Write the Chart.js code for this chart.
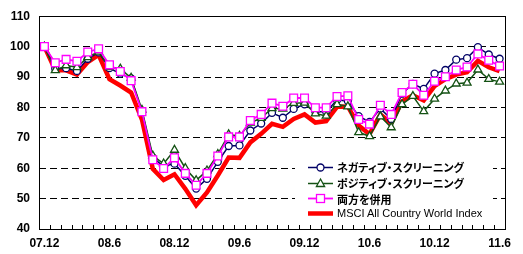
<!DOCTYPE html>
<html>
<head>
<meta charset="utf-8">
<script src="https://cdn.jsdelivr.net/npm/chart.js@4"></script>
<style>
  html, body { margin: 0; padding: 0; background: #fff; }
  #wrap { position: relative; width: 523px; height: 254px; }
  #legend {
    position: absolute; left: 295px; top: 160px; width: 198px; height: 61px;
    background: #fff; color: #000;
    font-family: "Liberation Sans", Arial, "Noto Sans CJK JP", sans-serif; font-size: 11px;
  }
  .row { position: absolute; left: 13px; height: 15px; display: flex; align-items: center; white-space: nowrap; }
  .row svg { margin-right: 4px; flex: none; }
  .jp { font-family: "Noto Sans CJK JP", sans-serif; font-weight: bold; font-feature-settings: "palt"; }
</style>
</head>
<body>
<div id="wrap">
  <canvas id="myChart" width="523" height="254"></canvas>
  <div id="legend"></div>
</div>
<script>
const months = [
  "07.12", "08.1", "08.2", "08.3", "08.4", "08.5", "08.6", "08.7", "08.8", "08.9", "08.10", "08.11",
  "08.12", "09.1", "09.2", "09.3", "09.4", "09.5", "09.6", "09.7", "09.8", "09.9", "09.10", "09.11",
  "09.12", "10.1", "10.2", "10.3", "10.4", "10.5", "10.6", "10.7", "10.8", "10.9", "10.10", "10.11",
  "10.12", "11.1", "11.2", "11.3", "11.4", "11.5", "11.6"
];

const negativeScreening = [
  100, 92.7, 92.9, 92.0, 96.0, 98.1, 92.9, 91.1, 89.5, 78.7, 63.5, 60.6,
  61.5, 57.5, 53.3, 56.5, 62.1, 67.3, 67.5, 72.4, 74.7, 78.2, 76.6, 79.5,
  81.0, 78.6, 78.6, 82.4, 82.1, 77.1, 75.2, 79.6, 76.2, 84.5, 87.7, 86.1,
  91.1, 92.3, 95.7, 96.2, 99.8, 97.4, 96.0
];

const positiveScreening = [
  100, 92.2, 93.8, 93.2, 96.5, 98.3, 93.2, 92.7, 89.7, 79.2, 64.1, 61.5,
  66.0, 60.0, 56.0, 59.2, 64.6, 71.1, 70.6, 74.9, 76.5, 79.7, 79.5, 81.4,
  81.5, 78.0, 77.2, 81.0, 80.3, 71.8, 70.5, 77.0, 73.4, 81.0, 83.7, 78.7,
  82.8, 85.5, 87.8, 88.1, 92.4, 89.3, 88.4
];

const combined = [
  100, 94.7, 95.8, 95.2, 98.2, 99.3, 94.0, 91.8, 88.8, 78.6, 62.8, 59.9,
  63.4, 58.3, 54.4, 58.3, 64.0, 70.3, 70.3, 75.7, 77.7, 81.4, 80.4, 83.1,
  83.1, 79.9, 79.9, 83.6, 83.8, 76.0, 74.5, 80.7, 77.7, 84.9, 87.6, 84.0,
  88.6, 90.1, 92.3, 93.3, 97.6, 95.5, 93.6
];

const msciAcwi = [
  100, 92.2, 92.2, 90.8, 94.9, 97.3, 89.3, 87.2, 84.9, 76.0, 59.8, 56.1,
  58.0, 53.2, 47.8, 52.0, 57.6, 63.5, 63.4, 68.5, 71.3, 74.6, 73.6, 76.2,
  77.7, 75.0, 75.5, 80.2, 80.3, 74.0, 71.2, 77.7, 74.8, 82.0, 84.0, 82.3,
  87.0, 89.3, 90.8, 91.6, 95.3, 93.2, 91.9
];

const NAVY = "#000066";
const GREEN = "#145214";
const MAGENTA = "#ff00ff";
const RED = "#ff0000";

// frame round the plot area and small inward ticks between months
const framePlugin = {
  id: "frame",
  afterDraw(chart) {
    const { ctx, chartArea } = chart;
    const x = chart.scales.x;
    ctx.save();
    ctx.strokeStyle = "#000";
    ctx.lineWidth = 1;
    const half = (x.getPixelForValue(1) - x.getPixelForValue(0)) / 2;
    ctx.beginPath();
    for (let i = 1; i < months.length; i++) {
      const px = Math.round(x.getPixelForValue(i) - half) + 0.5;
      ctx.moveTo(px, chartArea.bottom);
      ctx.lineTo(px, chartArea.bottom - 4);
    }
    ctx.stroke();
    ctx.strokeRect(Math.round(chartArea.left) + 0.5, Math.round(chartArea.top) + 0.5,
      Math.round(chartArea.right - chartArea.left), Math.round(chartArea.bottom - chartArea.top));
    ctx.restore();
  },
};

const datasets = [
  {
    label: "ネガティブ・スクリーニング",
    data: negativeScreening,
    borderColor: NAVY,
    borderWidth: 1.5,
    pointStyle: "circle",
    pointRadius: 3.5,
    pointBackgroundColor: "#fff",
    pointBorderColor: NAVY,
    pointBorderWidth: 1.3,
    order: 2,
  },
  {
    label: "ポジティブ・スクリーニング",
    data: positiveScreening,
    borderColor: GREEN,
    borderWidth: 1.5,
    pointStyle: "triangle",
    pointRadius: 4.6,
    pointBackgroundColor: "#fff",
    pointBorderColor: GREEN,
    pointBorderWidth: 1.3,
    order: 1,
  },
  {
    label: "両方を併用",
    data: combined,
    borderColor: MAGENTA,
    borderWidth: 1.8,
    pointStyle: "rect",
    pointRadius: 5.5,
    pointBackgroundColor: "#fff",
    pointBorderColor: MAGENTA,
    pointBorderWidth: 1.3,
    order: 0,
  },
  {
    label: "MSCI All Country World Index",
    data: msciAcwi,
    borderColor: RED,
    borderWidth: 4.5,
    pointRadius: 0,
    order: 3,
  },
];

const ctx = document.getElementById("myChart").getContext("2d");
const chart = new Chart(ctx, {
  type: "line",
  data: { labels: months, datasets: datasets },
  options: {
    responsive: false,
    animation: false,
    layout: { padding: { left: 0, right: 18, top: 13, bottom: 0 } },
    elements: { line: { tension: 0 } },
    plugins: {
      legend: { display: false },
      tooltip: { enabled: false },
    },
    scales: {
      x: {
        type: "category",
        offset: true,
        afterFit: (scale) => { scale.height = 25; },
        grid: { display: false, drawTicks: false },
        border: { display: false },
        ticks: {
          autoSkip: false,
          maxRotation: 0,
          padding: 7,
          color: "#000",
          font: { family: "'Liberation Sans', Arial, sans-serif", size: 12, weight: "bold" },
          callback: (value, index) => (index % 6 === 0 ? months[index] : ""),
        },
      },
      y: {
        min: 40,
        max: 110,
        afterFit: (scale) => { scale.width = 39; },
        ticks: {
          stepSize: 10,
          padding: 9,
          color: "#000",
          font: { family: "'Liberation Sans', Arial, sans-serif", size: 12, weight: "bold" },
        },
        grid: {
          drawTicks: false,
          color: (c) => (c.tick && (c.tick.value === 40 || c.tick.value === 110) ? "rgba(0,0,0,0)" : "#000"),
          lineWidth: 1,
        },
        border: { display: false, dash: [7, 4] },
      },
    },
  },
  plugins: [framePlugin],
});

// legend drawn in HTML inside the plot area, white box covers the grid
function markerSvg(ds) {
  const c = ds.borderColor;
  let mark = "";
  if (ds.pointStyle === "circle") {
    mark = `<circle cx="12.5" cy="7.5" r="3.5" fill="#fff" stroke="${c}" stroke-width="1.3"/>`;
  } else if (ds.pointStyle === "triangle") {
    mark = `<polygon points="12.5,3 16.6,10.5 8.4,10.5" fill="#fff" stroke="${c}" stroke-width="1.3"/>`;
  } else if (ds.pointStyle === "rect") {
    mark = `<rect x="8.5" y="3.5" width="8" height="8" fill="#fff" stroke="${c}" stroke-width="1.3"/>`;
  }
  return `<svg width="25" height="15"><line x1="0" y1="7.5" x2="25" y2="7.5" stroke="${c}" stroke-width="${ds.borderWidth}"/>${mark}</svg>`;
}

const legendEl = document.getElementById("legend");
const rowCenters = [7, 23, 38.5, 53];
chart.data.datasets.forEach((ds, i) => {
  const row = document.createElement("div");
  row.className = "row";
  row.style.top = (rowCenters[i] - 7.5) + "px";
  const isJp = /[^\x00-\x7f]/.test(ds.label);
  row.innerHTML = markerSvg(ds) + `<span class="${isJp ? "jp" : ""}">${ds.label}</span>`;
  legendEl.appendChild(row);
});
</script>
</body>
</html>
